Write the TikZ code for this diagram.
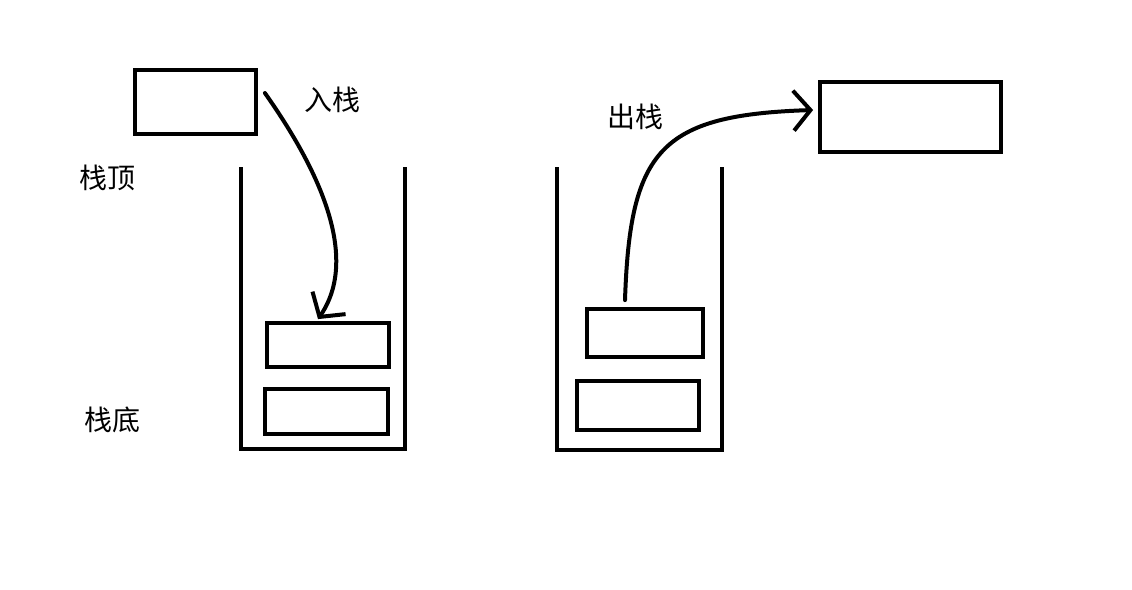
\documentclass[tikz,border=0pt]{standalone}
\usepackage{fontspec}
\newfontfamily\cjk{Noto Sans CJK SC}
\usepackage{tikz}
\usetikzlibrary{positioning, arrows.meta}

\begin{document}
\begin{tikzpicture}
        [
        x=1pt, y=-1pt,
        box/.style = {draw, line width=3.8pt, inner sep=0pt},
        lbl/.style = {font=\cjk\fontsize{28}{32}\selectfont, inner sep=0pt},
        wall/.style = {line width=3.8pt},
        arr/.style = {line width=4pt, line cap=round, -{Straight Barb[length=17pt, width=40pt, line width=4pt]}}
        ]
    \useasboundingbox (0,0) rectangle (1132,589);

    \node[box, minimum width=121pt, minimum height=64pt] (new) at (195.5,102) {};
    \node[box, minimum width=122pt, minimum height=44pt] (a1) at (328,345) {};
    \node[box, minimum width=123pt, minimum height=45pt] (a2) at (326.5,411.5) {};

    \node[box, minimum width=116pt, minimum height=48pt] (b1) at (645,333) {};
    \node[box, minimum width=122pt, minimum height=49pt] (b2) at (638,405.5) {};
    \node[box, minimum width=181pt, minimum height=70pt] (out) at (910.5,117) {};

    \node[lbl] (push) at (332,100) {入栈};
    \node[lbl] (pop) at (635,117) {出栈};
    \node[lbl] (top) at (107,178) {栈顶};
    \node[lbl] (bottom) at (112,420) {栈底};

    \draw[wall] (241,167) -- (241,449) -- (405,449) -- (405,167);
    \draw[wall] (557,167) -- (557,450) -- (722,450) -- (722,167);

    \draw[arr] ([xshift=7pt, yshift=9pt]new.east) .. controls (305,150) and (365,250) .. ([xshift=-10pt, yshift=2pt]a1.north);
    \draw[arr] ([xshift=-20pt, yshift=7pt]b1.north) .. controls (630,150) and (660,115) .. ([xshift=-5pt, yshift=7pt]out.west);
    \end{tikzpicture}
\end{document}
